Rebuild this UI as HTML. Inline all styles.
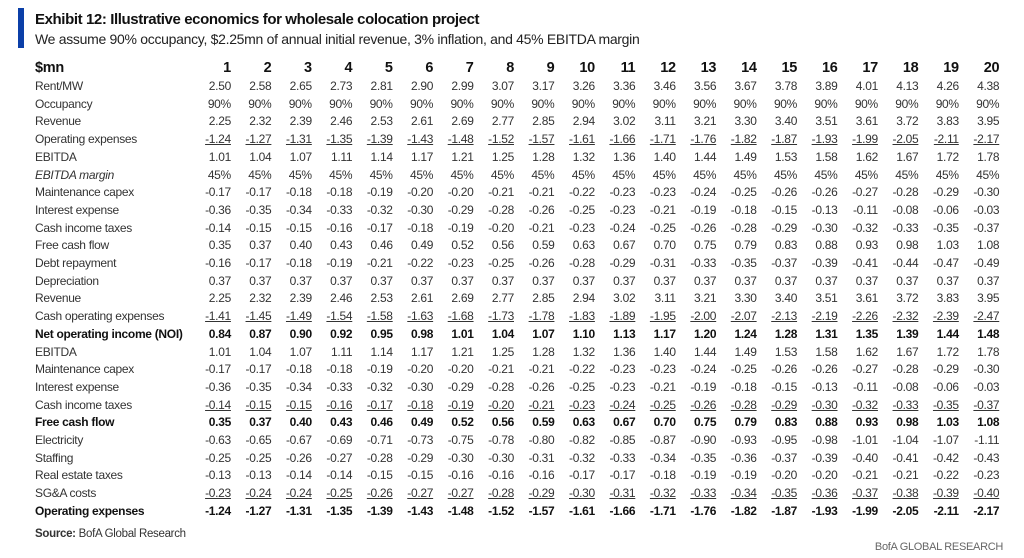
<!DOCTYPE html>
<html><head><meta charset="utf-8"><style>
body{margin:0;background:#fff;width:1024px;height:558px;overflow:hidden;position:relative;font-family:"Liberation Sans",sans-serif;color:#333}
.bar{position:absolute;left:18px;top:8px;width:6px;height:40px;background:#0b3fa8}
.t{position:absolute;left:35px;top:11px;font-size:15px;font-weight:bold;color:#111;letter-spacing:-0.4px}
.s{position:absolute;left:35px;top:31px;font-size:14px;color:#222;letter-spacing:-0.3px}
table{position:absolute;left:35px;top:59px;border-collapse:collapse;table-layout:fixed;font-size:12px;letter-spacing:-0.3px}
tr{height:17.7px}
td{padding:0;height:17.7px;line-height:17.7px;text-align:right;white-space:nowrap;width:40.45px}
td:first-child{text-align:left;width:155.5px}
tr.h{height:19px}
tr.h td{height:19px;line-height:19px;font-size:14.5px;font-weight:bold;color:#111}
tr.b td{font-weight:bold;color:#111}
tr.u td span{text-decoration:underline}
tr.i td:first-child{font-style:italic}
.src{position:absolute;left:35px;top:528px;font-size:11.5px;color:#333;letter-spacing:-0.3px}
.bofa{position:absolute;right:21px;top:541px;font-size:11px;color:#666;letter-spacing:-0.3px}
</style></head><body>
<div class="bar"></div>
<div class="t">Exhibit 12: Illustrative economics for wholesale colocation project</div>
<div class="s">We assume 90% occupancy, $2.25mn of annual initial revenue, 3% inflation, and 45% EBITDA margin</div>
<table>
<tr class="h"><td>$mn</td><td>1</td><td>2</td><td>3</td><td>4</td><td>5</td><td>6</td><td>7</td><td>8</td><td>9</td><td>10</td><td>11</td><td>12</td><td>13</td><td>14</td><td>15</td><td>16</td><td>17</td><td>18</td><td>19</td><td>20</td></tr>
<tr><td>Rent/MW</td><td>2.50</td><td>2.58</td><td>2.65</td><td>2.73</td><td>2.81</td><td>2.90</td><td>2.99</td><td>3.07</td><td>3.17</td><td>3.26</td><td>3.36</td><td>3.46</td><td>3.56</td><td>3.67</td><td>3.78</td><td>3.89</td><td>4.01</td><td>4.13</td><td>4.26</td><td>4.38</td></tr>
<tr><td>Occupancy</td><td>90%</td><td>90%</td><td>90%</td><td>90%</td><td>90%</td><td>90%</td><td>90%</td><td>90%</td><td>90%</td><td>90%</td><td>90%</td><td>90%</td><td>90%</td><td>90%</td><td>90%</td><td>90%</td><td>90%</td><td>90%</td><td>90%</td><td>90%</td></tr>
<tr><td>Revenue</td><td>2.25</td><td>2.32</td><td>2.39</td><td>2.46</td><td>2.53</td><td>2.61</td><td>2.69</td><td>2.77</td><td>2.85</td><td>2.94</td><td>3.02</td><td>3.11</td><td>3.21</td><td>3.30</td><td>3.40</td><td>3.51</td><td>3.61</td><td>3.72</td><td>3.83</td><td>3.95</td></tr>
<tr class="u"><td>Operating expenses</td><td><span>-1.24</span></td><td><span>-1.27</span></td><td><span>-1.31</span></td><td><span>-1.35</span></td><td><span>-1.39</span></td><td><span>-1.43</span></td><td><span>-1.48</span></td><td><span>-1.52</span></td><td><span>-1.57</span></td><td><span>-1.61</span></td><td><span>-1.66</span></td><td><span>-1.71</span></td><td><span>-1.76</span></td><td><span>-1.82</span></td><td><span>-1.87</span></td><td><span>-1.93</span></td><td><span>-1.99</span></td><td><span>-2.05</span></td><td><span>-2.11</span></td><td><span>-2.17</span></td></tr>
<tr><td>EBITDA</td><td>1.01</td><td>1.04</td><td>1.07</td><td>1.11</td><td>1.14</td><td>1.17</td><td>1.21</td><td>1.25</td><td>1.28</td><td>1.32</td><td>1.36</td><td>1.40</td><td>1.44</td><td>1.49</td><td>1.53</td><td>1.58</td><td>1.62</td><td>1.67</td><td>1.72</td><td>1.78</td></tr>
<tr class="i"><td>EBITDA margin</td><td>45%</td><td>45%</td><td>45%</td><td>45%</td><td>45%</td><td>45%</td><td>45%</td><td>45%</td><td>45%</td><td>45%</td><td>45%</td><td>45%</td><td>45%</td><td>45%</td><td>45%</td><td>45%</td><td>45%</td><td>45%</td><td>45%</td><td>45%</td></tr>
<tr><td>Maintenance capex</td><td>-0.17</td><td>-0.17</td><td>-0.18</td><td>-0.18</td><td>-0.19</td><td>-0.20</td><td>-0.20</td><td>-0.21</td><td>-0.21</td><td>-0.22</td><td>-0.23</td><td>-0.23</td><td>-0.24</td><td>-0.25</td><td>-0.26</td><td>-0.26</td><td>-0.27</td><td>-0.28</td><td>-0.29</td><td>-0.30</td></tr>
<tr><td>Interest expense</td><td>-0.36</td><td>-0.35</td><td>-0.34</td><td>-0.33</td><td>-0.32</td><td>-0.30</td><td>-0.29</td><td>-0.28</td><td>-0.26</td><td>-0.25</td><td>-0.23</td><td>-0.21</td><td>-0.19</td><td>-0.18</td><td>-0.15</td><td>-0.13</td><td>-0.11</td><td>-0.08</td><td>-0.06</td><td>-0.03</td></tr>
<tr><td>Cash income taxes</td><td>-0.14</td><td>-0.15</td><td>-0.15</td><td>-0.16</td><td>-0.17</td><td>-0.18</td><td>-0.19</td><td>-0.20</td><td>-0.21</td><td>-0.23</td><td>-0.24</td><td>-0.25</td><td>-0.26</td><td>-0.28</td><td>-0.29</td><td>-0.30</td><td>-0.32</td><td>-0.33</td><td>-0.35</td><td>-0.37</td></tr>
<tr><td>Free cash flow</td><td>0.35</td><td>0.37</td><td>0.40</td><td>0.43</td><td>0.46</td><td>0.49</td><td>0.52</td><td>0.56</td><td>0.59</td><td>0.63</td><td>0.67</td><td>0.70</td><td>0.75</td><td>0.79</td><td>0.83</td><td>0.88</td><td>0.93</td><td>0.98</td><td>1.03</td><td>1.08</td></tr>
<tr><td>Debt repayment</td><td>-0.16</td><td>-0.17</td><td>-0.18</td><td>-0.19</td><td>-0.21</td><td>-0.22</td><td>-0.23</td><td>-0.25</td><td>-0.26</td><td>-0.28</td><td>-0.29</td><td>-0.31</td><td>-0.33</td><td>-0.35</td><td>-0.37</td><td>-0.39</td><td>-0.41</td><td>-0.44</td><td>-0.47</td><td>-0.49</td></tr>
<tr><td>Depreciation</td><td>0.37</td><td>0.37</td><td>0.37</td><td>0.37</td><td>0.37</td><td>0.37</td><td>0.37</td><td>0.37</td><td>0.37</td><td>0.37</td><td>0.37</td><td>0.37</td><td>0.37</td><td>0.37</td><td>0.37</td><td>0.37</td><td>0.37</td><td>0.37</td><td>0.37</td><td>0.37</td></tr>
<tr><td>Revenue</td><td>2.25</td><td>2.32</td><td>2.39</td><td>2.46</td><td>2.53</td><td>2.61</td><td>2.69</td><td>2.77</td><td>2.85</td><td>2.94</td><td>3.02</td><td>3.11</td><td>3.21</td><td>3.30</td><td>3.40</td><td>3.51</td><td>3.61</td><td>3.72</td><td>3.83</td><td>3.95</td></tr>
<tr class="u"><td>Cash operating expenses</td><td><span>-1.41</span></td><td><span>-1.45</span></td><td><span>-1.49</span></td><td><span>-1.54</span></td><td><span>-1.58</span></td><td><span>-1.63</span></td><td><span>-1.68</span></td><td><span>-1.73</span></td><td><span>-1.78</span></td><td><span>-1.83</span></td><td><span>-1.89</span></td><td><span>-1.95</span></td><td><span>-2.00</span></td><td><span>-2.07</span></td><td><span>-2.13</span></td><td><span>-2.19</span></td><td><span>-2.26</span></td><td><span>-2.32</span></td><td><span>-2.39</span></td><td><span>-2.47</span></td></tr>
<tr class="b"><td>Net operating income (NOI)</td><td>0.84</td><td>0.87</td><td>0.90</td><td>0.92</td><td>0.95</td><td>0.98</td><td>1.01</td><td>1.04</td><td>1.07</td><td>1.10</td><td>1.13</td><td>1.17</td><td>1.20</td><td>1.24</td><td>1.28</td><td>1.31</td><td>1.35</td><td>1.39</td><td>1.44</td><td>1.48</td></tr>
<tr><td>EBITDA</td><td>1.01</td><td>1.04</td><td>1.07</td><td>1.11</td><td>1.14</td><td>1.17</td><td>1.21</td><td>1.25</td><td>1.28</td><td>1.32</td><td>1.36</td><td>1.40</td><td>1.44</td><td>1.49</td><td>1.53</td><td>1.58</td><td>1.62</td><td>1.67</td><td>1.72</td><td>1.78</td></tr>
<tr><td>Maintenance capex</td><td>-0.17</td><td>-0.17</td><td>-0.18</td><td>-0.18</td><td>-0.19</td><td>-0.20</td><td>-0.20</td><td>-0.21</td><td>-0.21</td><td>-0.22</td><td>-0.23</td><td>-0.23</td><td>-0.24</td><td>-0.25</td><td>-0.26</td><td>-0.26</td><td>-0.27</td><td>-0.28</td><td>-0.29</td><td>-0.30</td></tr>
<tr><td>Interest expense</td><td>-0.36</td><td>-0.35</td><td>-0.34</td><td>-0.33</td><td>-0.32</td><td>-0.30</td><td>-0.29</td><td>-0.28</td><td>-0.26</td><td>-0.25</td><td>-0.23</td><td>-0.21</td><td>-0.19</td><td>-0.18</td><td>-0.15</td><td>-0.13</td><td>-0.11</td><td>-0.08</td><td>-0.06</td><td>-0.03</td></tr>
<tr class="u"><td>Cash income taxes</td><td><span>-0.14</span></td><td><span>-0.15</span></td><td><span>-0.15</span></td><td><span>-0.16</span></td><td><span>-0.17</span></td><td><span>-0.18</span></td><td><span>-0.19</span></td><td><span>-0.20</span></td><td><span>-0.21</span></td><td><span>-0.23</span></td><td><span>-0.24</span></td><td><span>-0.25</span></td><td><span>-0.26</span></td><td><span>-0.28</span></td><td><span>-0.29</span></td><td><span>-0.30</span></td><td><span>-0.32</span></td><td><span>-0.33</span></td><td><span>-0.35</span></td><td><span>-0.37</span></td></tr>
<tr class="b"><td>Free cash flow</td><td>0.35</td><td>0.37</td><td>0.40</td><td>0.43</td><td>0.46</td><td>0.49</td><td>0.52</td><td>0.56</td><td>0.59</td><td>0.63</td><td>0.67</td><td>0.70</td><td>0.75</td><td>0.79</td><td>0.83</td><td>0.88</td><td>0.93</td><td>0.98</td><td>1.03</td><td>1.08</td></tr>
<tr><td>Electricity</td><td>-0.63</td><td>-0.65</td><td>-0.67</td><td>-0.69</td><td>-0.71</td><td>-0.73</td><td>-0.75</td><td>-0.78</td><td>-0.80</td><td>-0.82</td><td>-0.85</td><td>-0.87</td><td>-0.90</td><td>-0.93</td><td>-0.95</td><td>-0.98</td><td>-1.01</td><td>-1.04</td><td>-1.07</td><td>-1.11</td></tr>
<tr><td>Staffing</td><td>-0.25</td><td>-0.25</td><td>-0.26</td><td>-0.27</td><td>-0.28</td><td>-0.29</td><td>-0.30</td><td>-0.30</td><td>-0.31</td><td>-0.32</td><td>-0.33</td><td>-0.34</td><td>-0.35</td><td>-0.36</td><td>-0.37</td><td>-0.39</td><td>-0.40</td><td>-0.41</td><td>-0.42</td><td>-0.43</td></tr>
<tr><td>Real estate taxes</td><td>-0.13</td><td>-0.13</td><td>-0.14</td><td>-0.14</td><td>-0.15</td><td>-0.15</td><td>-0.16</td><td>-0.16</td><td>-0.16</td><td>-0.17</td><td>-0.17</td><td>-0.18</td><td>-0.19</td><td>-0.19</td><td>-0.20</td><td>-0.20</td><td>-0.21</td><td>-0.21</td><td>-0.22</td><td>-0.23</td></tr>
<tr class="u"><td>SG&amp;A costs</td><td><span>-0.23</span></td><td><span>-0.24</span></td><td><span>-0.24</span></td><td><span>-0.25</span></td><td><span>-0.26</span></td><td><span>-0.27</span></td><td><span>-0.27</span></td><td><span>-0.28</span></td><td><span>-0.29</span></td><td><span>-0.30</span></td><td><span>-0.31</span></td><td><span>-0.32</span></td><td><span>-0.33</span></td><td><span>-0.34</span></td><td><span>-0.35</span></td><td><span>-0.36</span></td><td><span>-0.37</span></td><td><span>-0.38</span></td><td><span>-0.39</span></td><td><span>-0.40</span></td></tr>
<tr class="b"><td>Operating expenses</td><td>-1.24</td><td>-1.27</td><td>-1.31</td><td>-1.35</td><td>-1.39</td><td>-1.43</td><td>-1.48</td><td>-1.52</td><td>-1.57</td><td>-1.61</td><td>-1.66</td><td>-1.71</td><td>-1.76</td><td>-1.82</td><td>-1.87</td><td>-1.93</td><td>-1.99</td><td>-2.05</td><td>-2.11</td><td>-2.17</td></tr>
</table>
<div class="src"><b>Source:</b> BofA Global Research</div>
<div class="bofa">BofA GLOBAL RESEARCH</div>
</body></html>
